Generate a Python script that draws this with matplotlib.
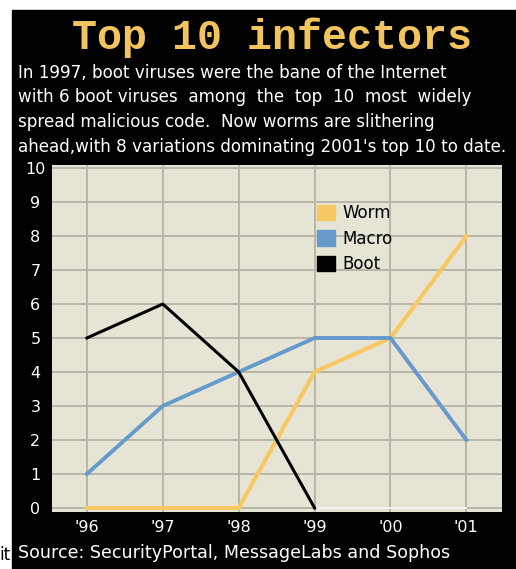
import matplotlib.pyplot as plt
from matplotlib.patches import Patch, Rectangle

years = ["'96", "'97", "'98", "'99", "'00", "'01"]
worm = [0, 0, 0, 4, 5, 8]
macro = [1, 3, 4, 5, 5, 2]
boot = [5, 6, 4, 0, 0, 0]
yticks = list(range(0, 11))

title = "Top 10 infectors"
blurb = ["In 1997, boot viruses were the bane of the Internet",
         "with 6 boot viruses  among  the  top  10  most  widely",
         "spread malicious code.  Now worms are slithering",
         "ahead,with 8 variations dominating 2001's top 10 to date."]
source = "Source: SecurityPortal, MessageLabs and Sophos"

W, H = 516, 569
fig = plt.figure(figsize=(W / 100, H / 100), dpi=100)
fig.patch.set_facecolor("white")

# black panel behind everything
fig.patches.append(Rectangle((12 / W, 0), 1 - 12 / W, 1 - 10 / H,
                             transform=fig.transFigure, color="black", zorder=-10))

ax = fig.add_axes([52 / W, 57 / H, 450 / W, 347 / H])
ax.set_facecolor("#E6E5D5")
x = list(range(len(years)))

ax.plot(x, worm, color="#F8C862", lw=3.0, zorder=3)
ax.plot(x, macro, color="#6699CC", lw=2.8, zorder=3)
ax.plot(x[:4], boot[:4], color="black", lw=2.2, zorder=4)
ax.plot(x[3:], boot[3:], color="white", lw=1.2, zorder=2)

ax.set_xlim(-0.46, 5.47)
ax.set_ylim(-0.12, 10.09)
ax.set_xticks(x)
ax.set_xticklabels(years)
ax.set_yticks(yticks)
ax.set_yticklabels([str(v) for v in yticks], ha="center")
ax.grid(True, color="#B8B6A8", lw=1.4, zorder=1)
ax.set_axisbelow(True)
for s in ax.spines.values():
    s.set_visible(False)
ax.tick_params(axis="both", length=0, colors="white", labelsize=11.5)
ax.tick_params(axis="y", pad=12)
ax.tick_params(axis="x", pad=6)

handles = [Patch(color="#F8C862", label="Worm"),
           Patch(color="#6699CC", label="Macro"),
           Patch(color="black", label="Boot")]
ax.legend(handles=handles, loc="upper left", frameon=False, fontsize=12,
          bbox_to_anchor=(317 / W, 1 - 204 / H), bbox_transform=fig.transFigure,
          borderaxespad=0, borderpad=0, handlelength=1.05, handleheight=1.05,
          handletextpad=0.5, labelspacing=0.45)

fig.text(272 / W, 1 - 38 / H, title, color="#F2C45E", fontsize=30,
         family="Liberation Mono", weight="bold", ha="center", va="center")
for i, line in enumerate(blurb):
    fig.text(18 / W, 1 - (73 + 24.5 * i) / H, line, color="white", fontsize=12.1,
             ha="left", va="center")
fig.text(18 / W, 1 - 553 / H, source, color="white", fontsize=12.6,
         ha="left", va="center")
fig.text(-1 / W, 1 - 555 / H, "it", color="black", fontsize=12,
         ha="left", va="center")

fig.savefig("out.png", dpi=100, facecolor=fig.get_facecolor())
